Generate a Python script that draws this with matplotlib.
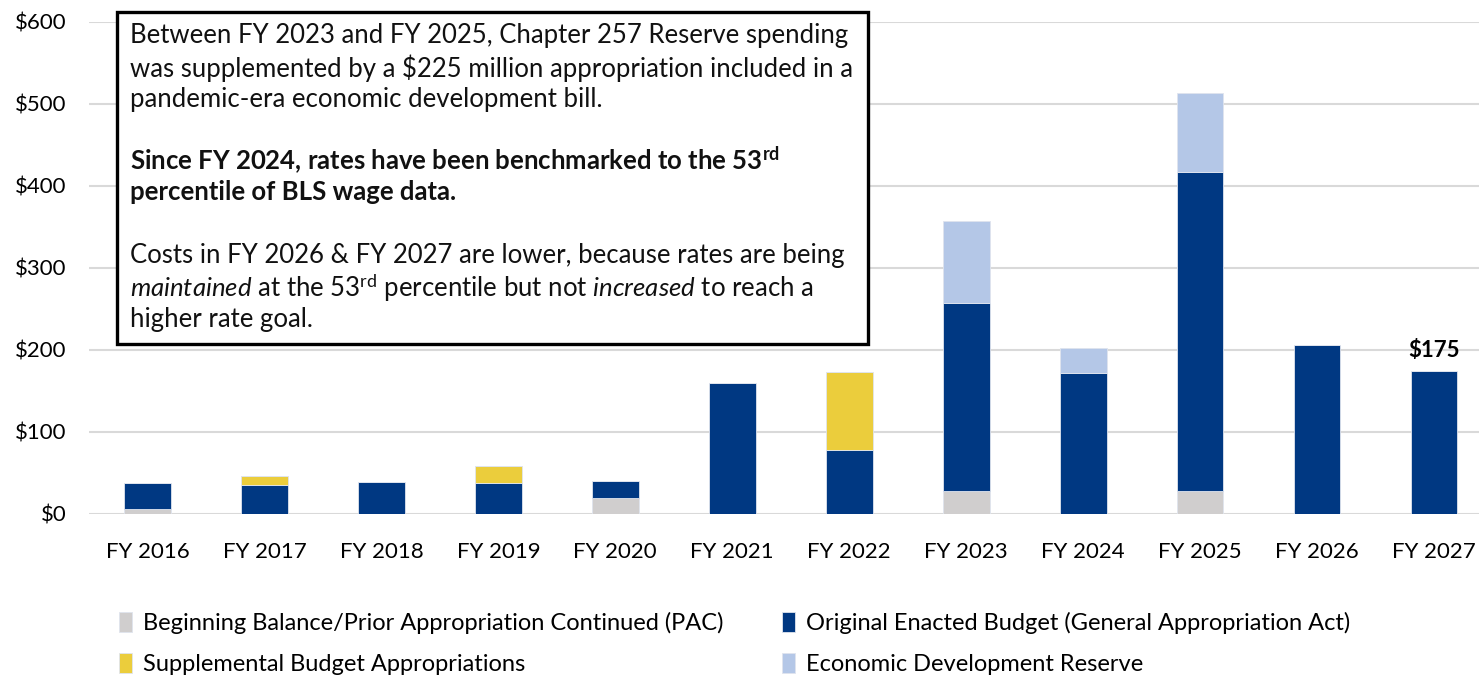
import matplotlib.pyplot as plt
import matplotlib.patches as mpatches
from matplotlib.ticker import FuncFormatter

plt.rcParams['font.family'] = ['Lato', 'DejaVu Sans']
plt.rcParams['mathtext.fontset'] = 'custom'
plt.rcParams['mathtext.rm'] = 'Lato'
plt.rcParams['mathtext.it'] = 'Lato:italic'
plt.rcParams['mathtext.bf'] = 'Lato:bold'

years = ['FY 2016', 'FY 2017', 'FY 2018', 'FY 2019', 'FY 2020', 'FY 2021',
         'FY 2022', 'FY 2023', 'FY 2024', 'FY 2025', 'FY 2026', 'FY 2027']
pac = [6.5, 0, 0, 0, 19.5, 0, 0, 28, 0, 28, 0, 0]
original = [31, 35, 39.5, 37.5, 20.5, 159.5, 78, 229, 172, 389, 206.5, 175]
supplemental = [0, 11.5, 0, 21, 0, 0, 95, 0, 0, 0, 0, 0]
edr = [0, 0, 0, 0, 0, 0, 0, 100, 31, 96, 0, 0]

series = [
    ('Beginning Balance/Prior Appropriation Continued (PAC)', pac, '#D0CECE'),
    ('Original Enacted Budget (General Appropriation Act)', original, '#003882'),
    ('Supplemental Budget Appropriations', supplemental, '#EBCD3C'),
    ('Economic Development Reserve', edr, '#B4C7E7'),
]

fig = plt.figure(figsize=(14.79, 6.77), dpi=100)
ax = fig.add_axes([89 / 1479, 163 / 677, 1 - 89 / 1479, 492 / 677])

x = list(range(len(years)))
bottom = [0] * len(years)
handles = {}
for name, vals, color in series:
    b = ax.bar(x, vals, 0.4, bottom=bottom, color=color, edgecolor='#dfe4ee',
               linewidth=0.6, label=name, zorder=3)
    handles[name] = b
    bottom = [bt + v for bt, v in zip(bottom, vals)]

ax.text(11, bottom[11] + 12, '\\$175', ha='center', va='bottom',
        fontsize=16, fontweight='bold', color='black')

ax.set_ylim(0, 600)
ax.set_xlim(-0.5, 11.385)
ax.set_yticks(range(0, 601, 100))
ax.yaxis.set_major_formatter(FuncFormatter(lambda v, p: '$%d' % v))
ax.set_xticks(x)
ax.set_xticklabels(years)
ax.tick_params(axis='both', length=0, labelsize=16, colors='black')
ax.tick_params(axis='x', pad=20)
ax.tick_params(axis='y', pad=16)
ax.grid(axis='y', color='#d9d9d9', linewidth=1.5, zorder=0)
for s in ax.spines.values():
    s.set_visible(False)

# text box
box = mpatches.Rectangle((117 / 1479, 1 - 344 / 677), 751 / 1479, 332 / 677,
                         transform=fig.transFigure, facecolor='white',
                         edgecolor='black', linewidth=2.4, zorder=5)
fig.add_artist(box)
lines = [
    (35, 'Between FY 2023 and FY 2025, Chapter 257 Reserve spending', 'normal'),
    (68, 'was supplemented by a \\$225 million appropriation included in a', 'normal'),
    (100, 'pandemic-era economic development bill.', 'normal'),
    (160, r'Since FY 2024, rates have been benchmarked to the 53$^{\mathbf{rd}}$', 'bold'),
    (192, 'percentile of BLS wage data.', 'bold'),
    (256, 'Costs in FY 2026 & FY 2027 are lower, because rates are being', 'normal'),
    (288, r'$\mathit{maintained}$ at the 53$^{\mathrm{rd}}$ percentile but not $\mathit{increased}$ to reach a', 'normal'),
    (320, 'higher rate goal.', 'normal'),
]
for yp, t, w in lines:
    fig.text(130 / 1479, 1 - yp / 677, t, fontsize=18.5, fontweight=w,
             ha='left', va='center', color='#111111', zorder=6)

order = [series[0][0], series[2][0], series[1][0], series[3][0]]
fig.legend([handles[n] for n in order], order, ncol=2, frameon=False,
           loc='upper left', bbox_to_anchor=(98 / 1479, 1 - 591 / 677),
           fontsize=17, handlelength=0.55, handleheight=0.9, handletextpad=0.45,
           columnspacing=2.5, labelspacing=0.8)

fig.savefig('out.png', dpi=100)
